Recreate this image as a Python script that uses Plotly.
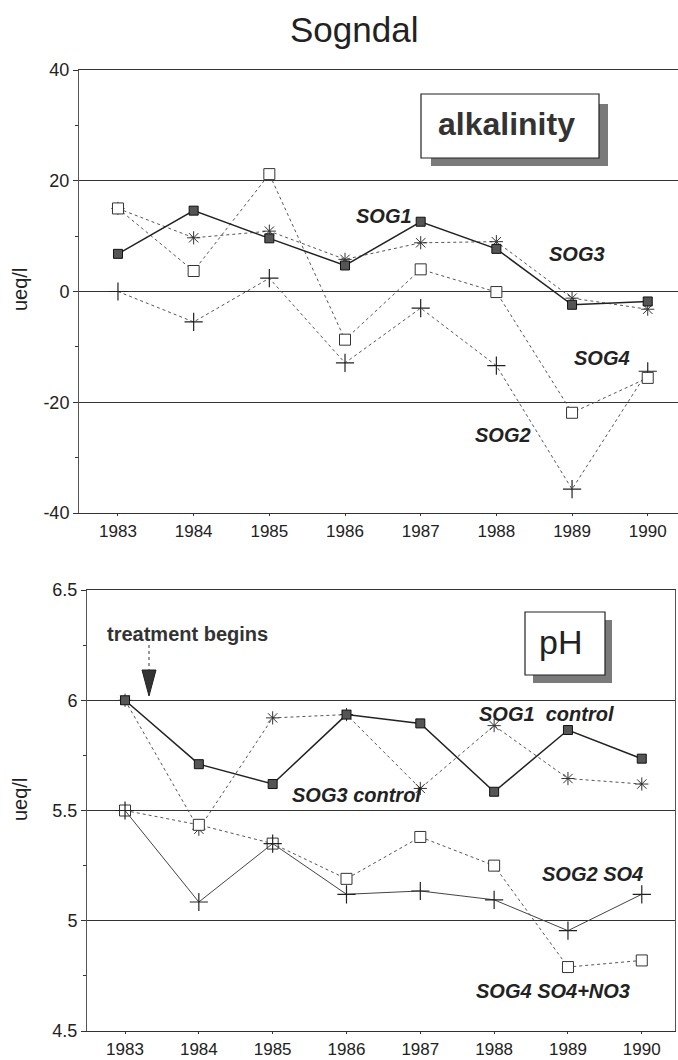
import plotly.graph_objects as go

W, H = 678, 1060

years = [1983, 1984, 1985, 1986, 1987, 1988, 1989, 1990]

# Alkalinity (ueq/l)
alk_sog1 = [6.8, 14.6, 9.6, 4.7, 12.6, 7.7, -2.4, -1.8]
alk_sog3 = [15.0, 9.7, 10.9, 5.8, 8.8, 9.0, -1.2, -3.2]
alk_sog4 = [15.0, 3.7, 21.2, -8.7, 4.0, -0.1, -21.9, -15.6]
alk_sog2 = [0.0, -5.5, 2.4, -12.9, -3.0, -13.4, -35.7, -14.4]

# pH
ph_sog1 = [6.00, 5.71, 5.62, 5.935, 5.895, 5.585, 5.865, 5.735]
ph_sog3 = [6.00, 5.415, 5.92, 5.935, 5.60, 5.885, 5.645, 5.62]
ph_sog2 = [5.50, 5.085, 5.35, 5.12, 5.135, 5.095, 4.955, 5.12]
ph_sog4 = [5.50, 5.435, 5.35, 5.19, 5.38, 5.25, 4.79, 4.82]

alk_ticks = [-40, -20, 0, 20, 40]
ph_ticks = [4.5, 5, 5.5, 6, 6.5]
ph_ticklabels = ["4.5", "5", "5.5", "6", "6.5"]


def px(x):
    return x / W


def py(y):
    return 1 - y / H


FONT = "Liberation Sans, Arial, Helvetica, sans-serif"
INK = "#222222"

fig = go.Figure()

sq_fill = dict(symbol="square", size=9, color="#555555", line=dict(color="#111111", width=1))
sq_open = dict(symbol="square", size=11, color="white", line=dict(color="#333333", width=1))
ast = dict(symbol="asterisk-open", size=11, color="#333333", line=dict(color="#333333", width=1))
plus = dict(symbol="cross-thin-open", size=13, color="#222222", line=dict(color="#222222", width=1.2))

# top panel traces
fig.add_trace(go.Scatter(x=years, y=alk_sog3, mode="lines+markers", marker=ast,
                         line=dict(color="#555555", width=1, dash="dot"), xaxis="x", yaxis="y"))
fig.add_trace(go.Scatter(x=years, y=alk_sog2, mode="lines+markers", marker=plus,
                         line=dict(color="#555555", width=1, dash="dot"), xaxis="x", yaxis="y"))
fig.add_trace(go.Scatter(x=years, y=alk_sog4, mode="lines+markers", marker=sq_open,
                         line=dict(color="#555555", width=1, dash="dot"), xaxis="x", yaxis="y"))
fig.add_trace(go.Scatter(x=years, y=alk_sog1, mode="lines+markers", marker=sq_fill,
                         line=dict(color="#222222", width=1.5), xaxis="x", yaxis="y"))

# bottom panel traces
fig.add_trace(go.Scatter(x=years, y=ph_sog3, mode="lines+markers", marker=ast,
                         line=dict(color="#555555", width=1, dash="dot"), xaxis="x2", yaxis="y2"))
fig.add_trace(go.Scatter(x=years, y=ph_sog4, mode="lines+markers", marker=sq_open,
                         line=dict(color="#555555", width=1, dash="dot"), xaxis="x2", yaxis="y2"))
fig.add_trace(go.Scatter(x=years, y=ph_sog2, mode="lines+markers", marker=plus,
                         line=dict(color="#444444", width=1), xaxis="x2", yaxis="y2"))
fig.add_trace(go.Scatter(x=years, y=ph_sog1, mode="lines+markers", marker=sq_fill,
                         line=dict(color="#222222", width=1.5), xaxis="x2", yaxis="y2"))

tickfont = dict(family=FONT, size=18, color=INK)
xtickfont = dict(family=FONT, size=17, color=INK)

xcommon = dict(tickmode="array", tickvals=years, ticktext=[str(y) for y in years],
               ticks="outside", ticklen=2, tickcolor="#333", tickfont=xtickfont,
               showgrid=False, zeroline=False, showline=True, linecolor="#333",
               linewidth=1.2, mirror=True, automargin=False)

fig.update_layout(
    width=W, height=H,
    margin=dict(l=0, r=0, t=0, b=0, pad=0, autoexpand=False),
    paper_bgcolor="white", plot_bgcolor="white",
    showlegend=False,
    xaxis=dict(xcommon, domain=[px(79), 1.0], range=[1982.485, 1990.4], anchor="y"),
    yaxis=dict(domain=[py(513), py(70)], range=[-40, 40], tickmode="array",
               tickvals=alk_ticks, ticktext=[str(t) for t in alk_ticks],
               ticks="outside", ticklen=5, tickcolor="#333", tickfont=tickfont,
               showgrid=True, gridcolor="#333", gridwidth=1.4, zeroline=False,
               showline=True, linecolor="#555", linewidth=1, automargin=False,
               minor=dict(tickmode="array", tickvals=[-30, -10, 10, 30], ticks="outside",
                          ticklen=3, tickcolor="#333", showgrid=False),
               anchor="x"),
    xaxis2=dict(xcommon, domain=[px(87), px(675)], range=[1982.485, 1990.45], anchor="y2"),
    yaxis2=dict(domain=[py(1031), py(590)], range=[4.5, 6.5], tickmode="array",
                tickvals=ph_ticks, ticktext=ph_ticklabels,
                ticks="outside", ticklen=5, tickcolor="#333", tickfont=tickfont,
                showgrid=True, gridcolor="#333", gridwidth=1.4, zeroline=False,
                showline=True, linecolor="#555", linewidth=1, mirror=True, automargin=False,
                minor=dict(tickmode="array", tickvals=[4.75, 5.25, 5.75, 6.25], ticks="outside",
                           ticklen=3, tickcolor="#333", showgrid=False),
                anchor="x2"),
)

shapes = []
# alkalinity box with shadow
shapes.append(dict(type="rect", xref="paper", yref="paper", x0=px(431), x1=px(608),
                   y0=py(166), y1=py(104), fillcolor="#7a7a7a", line=dict(width=0), layer="above"))
shapes.append(dict(type="rect", xref="paper", yref="paper", x0=px(421), x1=px(599),
                   y0=py(158), y1=py(94), fillcolor="white", line=dict(color="#222", width=1.2),
                   layer="above"))
# pH box with shadow
shapes.append(dict(type="rect", xref="paper", yref="paper", x0=px(533), x1=px(612),
                   y0=py(683), y1=py(620), fillcolor="#7a7a7a", line=dict(width=0), layer="above"))
shapes.append(dict(type="rect", xref="paper", yref="paper", x0=px(525), x1=px(605),
                   y0=py(675), y1=py(612), fillcolor="white", line=dict(color="#222", width=1.2),
                   layer="above"))
# treatment arrow
shapes.append(dict(type="line", xref="paper", yref="paper", x0=px(149), x1=px(149),
                   y0=py(645), y1=py(672), line=dict(color="#333", width=1, dash="dot")))
shapes.append(dict(type="path", xref="paper", yref="paper",
                   path=f"M {px(142)} {py(670)} L {px(156)} {py(670)} L {px(149)} {py(696)} Z",
                   fillcolor="#333", line=dict(color="#222", width=1)))
fig.update_layout(shapes=shapes)

ann = []


def label(text, x, y, size=20, bold=True, italic=True, color=INK, angle=0):
    t = text
    if bold:
        t = f"<b>{t}</b>"
    if italic:
        t = f"<i>{t}</i>"
    ann.append(dict(text=t, x=px(x), y=py(y), xref="paper", yref="paper", showarrow=False,
                    xanchor="center", yanchor="middle", textangle=angle,
                    font=dict(family=FONT, size=size, color=color)))


label("Sogndal", 354, 30, size=35, bold=False, italic=False, color="#222")
label("alkalinity", 506, 124, size=32, bold=True, italic=False, color="#333")
label("pH", 560, 642, size=34, bold=False, italic=False, color="#222")
label("treatment begins", 187, 634, size=20, bold=True, italic=False, color="#333")
label("ueq/l", 20, 290, size=20, bold=False, italic=False, angle=-90)
label("ueq/l", 20, 800, size=20, bold=False, italic=False, angle=-90)

label("SOG1", 384, 216)
label("SOG3", 577, 254)
label("SOG4", 602, 358)
label("SOG2", 503, 435)

label("SOG1&nbsp;&nbsp;control", 546, 714)
label("SOG3 control", 356, 795)
label("SOG2 SO4", 592, 874)
label("SOG4 SO4+NO3", 553, 991)

fig.update_layout(annotations=ann)

fig.write_html(
    "out.html",
    config={"displayModeBar": False},
    post_script="document.body.style.margin='0';document.body.style.padding='0';"
                "document.body.style.overflow='hidden';",
)
